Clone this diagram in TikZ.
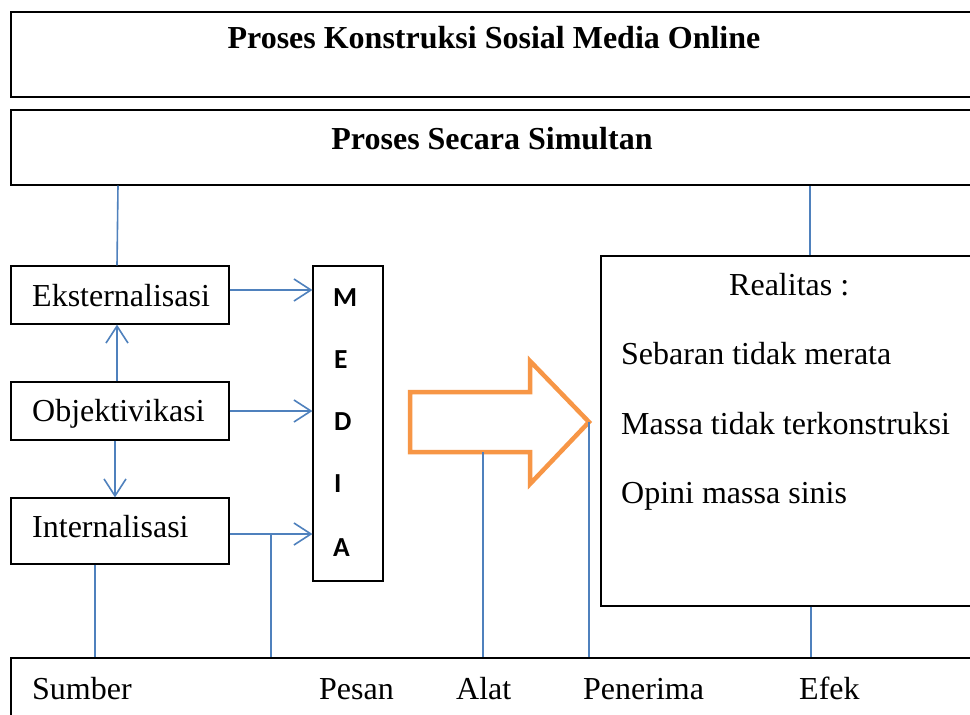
\documentclass[tikz,border=0pt]{standalone}
\usepackage{fontspec}
\setmainfont{Liberation Serif}
\newfontfamily\calibfont{Carlito}
\usetikzlibrary{arrows.meta}
\definecolor{linkblue}{RGB}{79,129,189}
\definecolor{orng}{RGB}{247,150,70}
\begin{document}
\begin{tikzpicture}[x=1pt,y=-1pt,
  box/.style={draw=black, line width=1.2pt, inner sep=0pt},
  conn/.style={draw=linkblue, line width=1.6pt},
  arr/.style={conn, -{Straight Barb[length=17pt,width=22pt,line width=1.6pt]}},
  lbl/.style={font=\fontsize{32}{36}\selectfont, inner sep=0pt},
  ttl/.style={font=\fontsize{32}{36}\selectfont\bfseries, inner sep=0pt},
  med/.style={font=\fontsize{27.5}{30}\selectfont\calibfont\bfseries, inner sep=0pt, anchor=base west},
]
\useasboundingbox (0,0) rectangle (970,715);
\clip (0,0) rectangle (970,715);
\fill[white] (0,0) rectangle (970,715);

% boxes
\node[box, minimum width=964pt, minimum height=85pt] (top) at (493,54.5) {};
\node[box, minimum width=964pt, minimum height=75pt] (sec) at (493,147.5) {};
\node[box, minimum width=218pt, minimum height=58pt] (eks) at (120,295) {};
\node[box, minimum width=218pt, minimum height=58pt] (obj) at (120,411) {};
\node[box, minimum width=218pt, minimum height=66pt] (int) at (120,531) {};
\node[box, minimum width=70pt, minimum height=315pt] (media) at (348,423.5) {};
\node[box, minimum width=374pt, minimum height=350pt] (real) at (788,431) {};
\node[box, minimum width=964pt, minimum height=70pt] (bot) at (493,693) {};

% texts
\node[ttl, anchor=base] (topT) at (494,48) {Proses Konstruksi Sosial Media Online};
\node[ttl, anchor=base] (secT) at (492,149) {Proses Secara Simultan};
\node[lbl, anchor=base west] (eksT) at (32,306) {Eksternalisasi};
\node[lbl, anchor=base west] (objT) at (32,421) {Objektivikasi};
\node[lbl, anchor=base west] (intT) at (32,537) {Internalisasi};
\node[med] (mM) at (333,306) {M};
\node[med] (mE) at (334,368) {E};
\node[med] (mD) at (334,430) {D};
\node[med] (mI) at (334,492) {I};
\node[med] (mA) at (333,556) {A};
\node[lbl, anchor=base west] (realT) at (729,295) {Realitas :};
\node[lbl, anchor=base west] (r1) at (621,364) {Sebaran tidak merata};
\node[lbl, anchor=base west] (r2) at (621,434) {Massa tidak terkonstruksi};
\node[lbl, anchor=base west] (r3) at (621,503) {Opini massa sinis};
\node[lbl, anchor=base west] (b1) at (32,699) {Sumber};
\node[lbl, anchor=base west] (b2) at (319,699) {Pesan};
\node[lbl, anchor=base west] (b3) at (456,699) {Alat};
\node[lbl, anchor=base west] (b4) at (583,699) {Penerima};
\node[lbl, anchor=base west] (b5) at (799,699) {Efek};

% orange block arrow
\draw[orng, line width=4.5pt, miter limit=10]
  (410,392) -- (530,392) -- (530,361) -- (589,422) -- (530,484) -- (530,452) -- (410,452) -- cycle;
\coordinate (tip) at (589,422);
\coordinate (alatTop) at (483,452);

% connectors
\draw[conn] ([xshift=-3pt]eks.north) -- ([xshift=-2pt]eks.north |- sec.south);
\draw[conn] ([xshift=22pt]real.north) -- ([xshift=22pt]real.north |- sec.south);
\draw[arr] ([yshift=5pt]eks.east) -- ([yshift=5pt]eks.east -| media.west);
\draw[arr] (obj.east) -- (obj.east -| media.west);
\draw[arr] ([yshift=-3pt]int.east) -- ([yshift=-3pt]int.east -| media.west);
\draw[arr] ([xshift=-3pt]obj.north) -- ([xshift=-3pt]eks.south);
\draw[arr] ([xshift=-5pt]obj.south) -- ([xshift=-5pt]int.north);
\coordinate (pj) at (271,534);
\draw[conn] ([xshift=-25pt]int.south) -- ([xshift=-25pt]int.south |- bot.north);
\draw[conn] (pj) -- (pj |- bot.north);
\draw[conn, line width=1.3pt] (alatTop) -- (alatTop |- bot.north);
\draw[conn, line width=1.3pt] (tip) -- (tip |- bot.north);
\draw[conn] ([xshift=23pt]real.south) -- ([xshift=23pt]real.south |- bot.north);
\end{tikzpicture}
\end{document}
